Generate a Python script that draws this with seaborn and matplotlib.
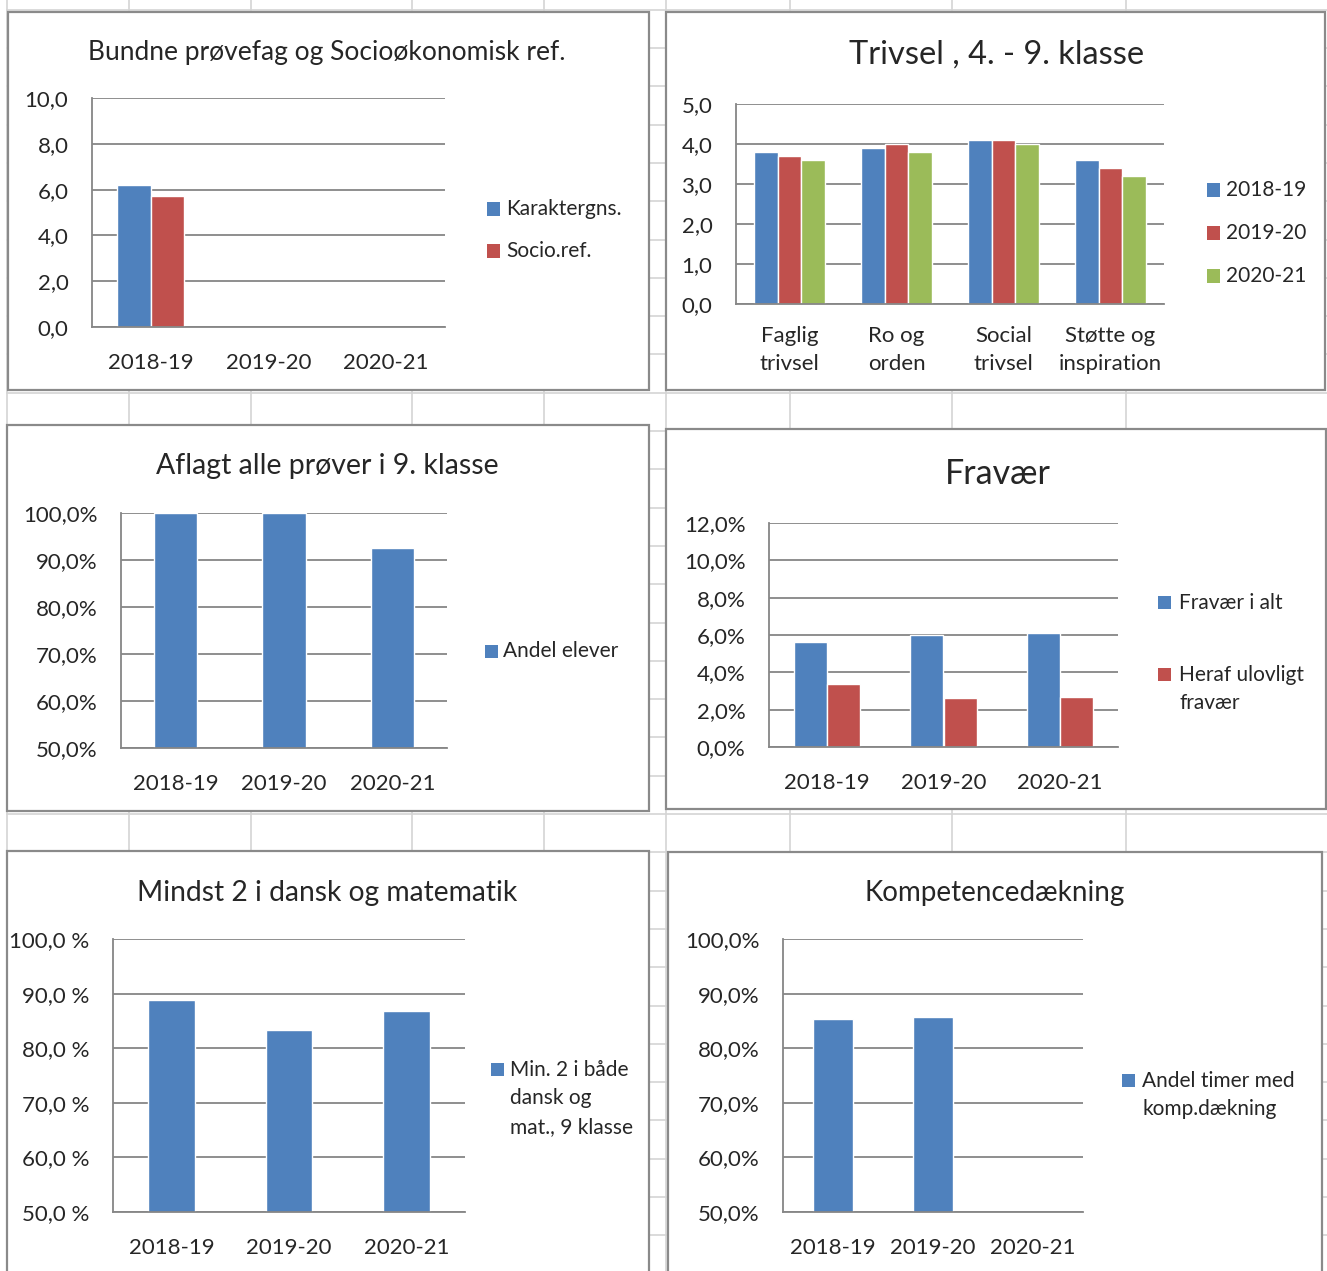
import matplotlib
matplotlib.use("Agg")

import matplotlib.pyplot as plt
import seaborn as sns
import numpy as np
import pandas as pd
from matplotlib.lines import Line2D
from matplotlib.patches import Rectangle

# ---- data ----
years = ["2018-19", "2019-20", "2020-21"]

karaktergns = [6.2, np.nan, np.nan]
socio_ref = [5.7, np.nan, np.nan]

trivsel_cats = ["Faglig\ntrivsel", "Ro og\norden", "Social\ntrivsel", "Støtte og\ninspiration"]
trivsel_1819 = [3.8, 3.9, 4.1, 3.6]
trivsel_1920 = [3.7, 4.0, 4.1, 3.4]
trivsel_2021 = [3.6, 3.8, 4.0, 3.2]

aflagt_andel = [100.0, 100.0, 92.5]

fravaer_alt = [5.6, 6.0, 6.1]
fravaer_ulovligt = [3.4, 2.6, 2.7]

mindst2_andel = [88.9, 83.3, 86.8]

komp_andel = [85.4, 85.7, np.nan]

BLUE, RED, GREEN = "#4F81BD", "#C0504D", "#9BBB59"
GRID = "#868686"
W, H = 1327, 1271
TICK = 16
LEG = 15

sns.set_style("white")
plt.rcParams["font.family"] = ["Lato", "DejaVu Sans"]

fig = plt.figure(figsize=(W / 100, H / 100), dpi=100)


def fx(x):
    return x / W


def fy(y):
    return 1 - y / H


def long_df(cats, series):
    rows = []
    for name, vals in series.items():
        for c, v in zip(cats, vals):
            if not np.isnan(v):
                rows.append({"cat": c, "serie": name, "value": v})
    return pd.DataFrame(rows)


# spreadsheet cell grid behind the charts
for x in [7, 129, 251, 412, 544, 666, 790, 952, 1126]:
    fig.add_artist(Line2D([fx(x)] * 2, [0, 1], transform=fig.transFigure,
                          color="#D4D4D4", lw=1.2, zorder=-3))
for y in np.arange(9.7, H, 38.3):
    fig.add_artist(Line2D([fx(7), 1], [fy(y)] * 2, transform=fig.transFigure,
                          color="#D4D4D4", lw=1.2, zorder=-3))

# chart frames (left, top, right, bottom in px)
frames = [(8, 12, 649, 390), (666, 12, 1325, 390),
          (7, 425, 649, 811), (666, 429, 1326, 809),
          (7, 851, 649, 1275), (668, 852, 1322, 1275)]
for l, t, r, b in frames:
    fig.add_artist(Rectangle((fx(l), fy(b)), (r - l) / W, (b - t) / H,
                             transform=fig.transFigure, facecolor="white",
                             edgecolor="#8A8A8A", lw=1.6, zorder=-1))


def make_ax(l, t, r, b):
    return fig.add_axes([fx(l), fy(b), (r - l) / W, (b - t) / H])


def style(ax, lim, ticks, fmt, ticks_out=False):
    ax.set_ylim(*lim)
    ax.set_yticks(ticks)
    ax.set_yticklabels([fmt(v) for v in ticks])
    ax.yaxis.grid(True, color=GRID, lw=1.3)
    ax.set_axisbelow(True)
    for s in ["top", "right"]:
        ax.spines[s].set_visible(False)
    for s in ["left", "bottom"]:
        ax.spines[s].set_color(GRID)
        ax.spines[s].set_linewidth(1.3)
    ax.set_xlabel("")
    ax.set_ylabel("")
    ax.tick_params(axis="y", labelsize=TICK, pad=17 if not ticks_out else 12,
                   length=5 if ticks_out else 0, color=GRID, width=1.3)
    ax.tick_params(axis="x", labelsize=TICK, pad=19, length=0)


def square(x, y, color):
    fig.add_artist(Rectangle((fx(x), fy(y + 6.5)), 13 / W, 13 / H,
                             transform=fig.transFigure, facecolor=color,
                             edgecolor="none"))


def legend_text(x, y, label):
    fig.text(fx(x), fy(y), label, fontsize=LEG, ha="left", va="center",
             linespacing=1.55)


def title(x, y, label, size):
    fig.text(fx(x), fy(y + 2.5), label, fontsize=size, ha="center", va="center")


comma1 = lambda v: f"{v:.1f}".replace(".", ",")
pct = lambda v: f"{v:.1f}%".replace(".", ",")
pct_sp = lambda v: f"{v:.1f} %".replace(".", ",")

# 1) Bundne prøvefag og Socioøkonomisk ref.
ax1 = make_ax(92, 98, 445, 327)
df1 = long_df(years, {"Karaktergns.": karaktergns, "Socio.ref.": socio_ref})
sns.barplot(data=df1, x="cat", y="value", hue="serie", order=years,
            hue_order=["Karaktergns.", "Socio.ref."], palette=[BLUE, RED],
            width=2 / 3.5, saturation=1, ax=ax1, legend=False)
style(ax1, (0, 10), [0, 2, 4, 6, 8, 10], comma1)
title(327, 50, "Bundne prøvefag og Socioøkonomisk ref.", 19)
square(487, 209, BLUE)
legend_text(506, 209, "Karaktergns.")
square(487, 251, RED)
legend_text(506, 251, "Socio.ref.")

# 2) Trivsel
ax2 = make_ax(736, 104, 1164, 304)
df2 = long_df(trivsel_cats, {"2018-19": trivsel_1819, "2019-20": trivsel_1920,
                             "2020-21": trivsel_2021})
sns.barplot(data=df2, x="cat", y="value", hue="serie", order=trivsel_cats,
            hue_order=years, palette=[BLUE, RED, GREEN], width=3 / 4.5,
            saturation=1, ax=ax2, legend=False)
style(ax2, (0, 5), [0, 1, 2, 3, 4, 5], comma1)
ax2.tick_params(axis="x", pad=15.5)
for lab in ax2.get_xticklabels():
    lab.set_linespacing(1.55)
title(997, 52, "Trivsel , 4. - 9. klasse", 23.5)
for y, c, name in zip([190, 233, 276], [BLUE, RED, GREEN], years):
    square(1207, y, c)
    legend_text(1226, y, name)

# 3) Aflagt alle prøver i 9. klasse
ax3 = make_ax(121, 513, 447, 748)
sns.barplot(x=years, y=aflagt_andel, order=years, color=BLUE, width=0.4,
            saturation=1, ax=ax3)
style(ax3, (50, 100), [50, 60, 70, 80, 90, 100], pct)
title(327, 464, "Aflagt alle prøver i 9. klasse", 20.5)
square(485, 651, BLUE)
legend_text(503, 651, "Andel elever")

# 4) Fravær
ax4 = make_ax(769, 523, 1118, 747)
df4 = long_df(years, {"Fravær i alt": fravaer_alt,
                      "Heraf ulovligt fravær": fravaer_ulovligt})
sns.barplot(data=df4, x="cat", y="value", hue="serie", order=years,
            hue_order=["Fravær i alt", "Heraf ulovligt fravær"],
            palette=[BLUE, RED], width=2 / 3.5, saturation=1, ax=ax4,
            legend=False)
style(ax4, (0, 12), [0, 2, 4, 6, 8, 10, 12], pct)
title(998, 471, "Fravær", 24.5)
square(1158, 603, BLUE)
legend_text(1179, 603, "Fravær i alt")
square(1158, 674, RED)
legend_text(1179, 689, "Heraf ulovligt\nfravær")

# 5) Mindst 2 i dansk og matematik
ax5 = make_ax(113, 939, 465, 1212)
sns.barplot(x=years, y=mindst2_andel, order=years, color=BLUE, width=0.4,
            saturation=1, ax=ax5)
style(ax5, (50, 100), [50, 60, 70, 80, 90, 100], pct_sp, ticks_out=True)
ax5.set_xticks([-0.5, 0.5, 1.5, 2.5], minor=True)
ax5.tick_params(axis="x", which="minor", length=6, color=GRID, width=1.3)
ax5.set_xlim(-0.5, 2.5)
title(327, 890, "Mindst 2 i dansk og matematik", 20.3)
square(491, 1069, BLUE)
legend_text(510, 1098.5, "Min. 2 i både\ndansk og\nmat., 9 klasse")

# 6) Kompetencedækning
ax6 = make_ax(783, 939, 1083, 1212)
sns.barplot(x=years[:2], y=komp_andel[:2], order=years, color=BLUE,
            width=0.4, saturation=1, ax=ax6)
style(ax6, (50, 100), [50, 60, 70, 80, 90, 100], pct)
title(995, 890, "Kompetencedækning", 20)
square(1122, 1080, BLUE)
legend_text(1142, 1095, "Andel timer med\nkomp.dækning")

fig.savefig("out.png", dpi=100)
